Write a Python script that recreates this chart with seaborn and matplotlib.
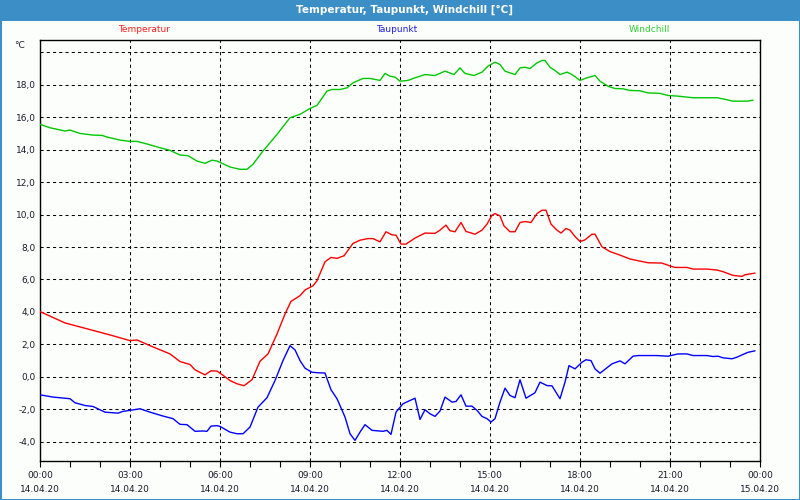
import matplotlib
matplotlib.use("Agg")
import matplotlib.pyplot as plt
from matplotlib.patches import Rectangle
import seaborn as sns
import pandas as pd

# ---------------- data (minutes after 14.04.20 00:00, °C) ----------------
temp_minutes = [0, 50, 100, 140, 180, 194, 220, 260, 280, 300, 310, 330, 342, 354, 364, 380, 394, 408,
                424, 440, 456, 474, 490, 502, 520, 530, 546, 554, 570, 582, 594, 608, 626, 640, 656, 666,
                680, 692, 704, 712, 722, 732, 750, 770, 790, 800, 812, 820, 830, 842, 852, 870, 884, 894,
                904, 910, 920, 928, 940, 950, 960, 970, 982, 994, 1004, 1012, 1022, 1034, 1042, 1052, 1060,
                1070, 1080, 1090, 1104, 1110, 1124, 1140, 1160, 1180, 1200, 1216, 1244, 1260, 1270, 1294,
                1306, 1334, 1354, 1366, 1386, 1404, 1410, 1430]
temp_values = [4.02, 3.32, 2.91, 2.58, 2.23, 2.27, 1.92, 1.41, 0.94, 0.76, 0.43, 0.12, 0.37, 0.35, 0.14,
               -0.23, -0.43, -0.55, -0.18, 0.96, 1.41, 2.64, 3.87, 4.65, 5.0, 5.35, 5.61, 5.92, 7.09, 7.36,
               7.3, 7.46, 8.22, 8.42, 8.52, 8.52, 8.32, 8.94, 8.75, 8.73, 8.18, 8.18, 8.55, 8.86, 8.84, 9.04,
               9.35, 9.0, 8.94, 9.51, 8.96, 8.79, 9.04, 9.41, 9.96, 10.06, 9.92, 9.3, 8.94, 8.94, 9.51, 9.57,
               9.51, 10.06, 10.27, 10.27, 9.41, 9.04, 8.86, 9.14, 9.04, 8.65, 8.34, 8.44, 8.79, 8.79, 8.01,
               7.72, 7.5, 7.26, 7.13, 7.03, 7.01, 6.83, 6.74, 6.74, 6.64, 6.64, 6.58, 6.48, 6.25, 6.19, 6.29,
               6.39]

dew_minutes = [0, 26, 60, 70, 90, 106, 130, 156, 166, 180, 200, 220, 246, 266, 280, 294, 310, 326, 334,
               342, 354, 360, 380, 394, 406, 420, 436, 454, 470, 486, 500, 510, 520, 530, 544, 556, 570,
               582, 594, 610, 620, 630, 640, 650, 664, 686, 694, 702, 712, 726, 750, 760, 770, 780, 790,
               800, 810, 824, 832, 842, 852, 864, 874, 884, 894, 902, 910, 920, 930, 940, 950, 960, 972,
               990, 1000, 1014, 1024, 1040, 1050, 1058, 1070, 1084, 1092, 1102, 1110, 1120, 1144, 1160,
               1170, 1186, 1196, 1234, 1256, 1276, 1294, 1306, 1334, 1346, 1356, 1366, 1384, 1394, 1404,
               1416, 1430]
dew_values = [-1.11, -1.25, -1.35, -1.6, -1.77, -1.83, -2.18, -2.24, -2.13, -2.07, -1.97, -2.18, -2.42,
              -2.58, -2.93, -2.95, -3.36, -3.34, -3.36, -3.04, -3.01, -3.06, -3.41, -3.51, -3.51, -3.1,
              -1.87, -1.29, -0.23, 1.0, 1.92, 1.66, 1.0, 0.53, 0.28, 0.25, 0.23, -0.8, -1.35, -2.48, -3.51,
              -3.92, -3.41, -2.95, -3.3, -3.36, -3.3, -3.55, -2.18, -1.66, -1.32, -2.63, -2.03, -2.28,
              -2.44, -2.11, -1.25, -1.56, -1.52, -1.11, -1.81, -1.81, -2.07, -2.44, -2.58, -2.79, -2.58,
              -1.56, -0.7, -1.15, -1.29, -0.18, -1.32, -0.98, -0.33, -0.54, -0.56, -1.35, -0.33, 0.69,
              0.49, 0.9, 1.05, 1.0, 0.49, 0.22, 0.8, 0.98, 0.8, 1.27, 1.31, 1.31, 1.27, 1.41, 1.41, 1.31,
              1.31, 1.25, 1.27, 1.17, 1.11, 1.21, 1.35, 1.51, 1.6]

chill_minutes = [0, 20, 50, 60, 80, 106, 124, 134, 160, 180, 194, 214, 240, 260, 280, 296, 314, 330, 344,
                 354, 364, 380, 400, 414, 426, 446, 474, 500, 520, 540, 554, 574, 584, 600, 614, 626, 646,
                 660, 680, 690, 700, 710, 720, 736, 750, 770, 790, 810, 828, 840, 850, 868, 884, 896, 910,
                 920, 930, 950, 960, 970, 980, 994, 1004, 1010, 1020, 1030, 1040, 1054, 1064, 1080, 1094,
                 1110, 1120, 1136, 1150, 1166, 1180, 1200, 1216, 1240, 1256, 1276, 1306, 1354, 1366, 1386,
                 1414, 1426]
chill_values = [15.56, 15.35, 15.15, 15.21, 15.0, 14.9, 14.88, 14.78, 14.59, 14.51, 14.51, 14.35, 14.12,
                13.96, 13.67, 13.63, 13.3, 13.16, 13.35, 13.3, 13.16, 12.93, 12.79, 12.79, 13.1, 13.92,
                14.94, 15.97, 16.18, 16.54, 16.73, 17.61, 17.71, 17.71, 17.81, 18.12, 18.39, 18.39, 18.27,
                18.7, 18.53, 18.47, 18.22, 18.27, 18.43, 18.63, 18.57, 18.84, 18.63, 19.04, 18.7, 18.57,
                18.78, 19.15, 19.39, 19.25, 18.84, 18.63, 19.04, 19.08, 19.0, 19.35, 19.5, 19.5, 19.08,
                18.88, 18.63, 18.78, 18.63, 18.27, 18.43, 18.57, 18.22, 17.91, 17.77, 17.75, 17.65, 17.63,
                17.5, 17.47, 17.34, 17.3, 17.2, 17.2, 17.13, 16.99, 16.99, 17.05]

series_names = ["Temperatur", "Taupunkt", "Windchill"]
x_tick_hours = [0, 3, 6, 9, 12, 15, 18, 21, 24]
x_tick_times = ["00:00", "03:00", "06:00", "09:00", "12:00", "15:00", "18:00", "21:00", "00:00"]
x_tick_dates = ["14.04.20"] * 8 + ["15.04.20"]
y_ticks = [-4, -2, 0, 2, 4, 6, 8, 10, 12, 14, 16, 18, 20]
title_text = "Temperatur, Taupunkt, Windchill [°C]"
unit_text = "°C"

# ---------------- styling ----------------
sns.set_style("white")
plt.rcParams["font.family"] = ["DejaVu Sans"]

frame_blue = "#3c8ec6"
bg = "#fcfefc"
colors = {"Temperatur": "#ff0000", "Taupunkt": "#0000ff", "Windchill": "#00c800"}
label_colors = {"Temperatur": "#ff2020", "Taupunkt": "#2020e0", "Windchill": "#33cc33"}
txt = "#1a1a2a"

frames = []
for name, mins, vals in [("Temperatur", temp_minutes, temp_values),
                         ("Taupunkt", dew_minutes, dew_values),
                         ("Windchill", chill_minutes, chill_values)]:
    frames.append(pd.DataFrame({"hour": [m / 60 for m in mins], "value": vals, "series": name}))
df = pd.concat(frames, ignore_index=True)

fig = plt.figure(figsize=(8, 5), dpi=100)
fig.patch.set_facecolor(bg)

# title bar and border
fig.add_artist(Rectangle((0, 1 - 21 / 500), 1, 21 / 500, transform=fig.transFigure,
                         facecolor=frame_blue, edgecolor="none", zorder=0))
fig.add_artist(Rectangle((0, 0), 1, 1, transform=fig.transFigure, fill=False,
                         edgecolor=frame_blue, linewidth=2.2, zorder=10))
fig.text(405 / 800, 1 - 10 / 500, title_text, ha="center", va="center", color="white",
         fontsize=7.5, fontweight="bold")

ax = fig.add_axes([40 / 800, 1 - 461 / 500, 720 / 800, 421 / 500])
ax.set_facecolor(bg)

sns.lineplot(data=df, x="hour", y="value", hue="series", palette=colors, hue_order=series_names,
             estimator=None, sort=False, linewidth=1.0, legend=False, ax=ax, zorder=3)

ax.set_xlim(0, 24)
ax.set_ylim(-5.19, 20.76)

ax.set_xticks(x_tick_hours)
ax.set_xticklabels([f"{t}\n{d}" for t, d in zip(x_tick_times, x_tick_dates)],
                   linespacing=1.7, fontsize=6.5, color=txt)
ax.set_xticks(range(0, 25), minor=True)
ax.tick_params(axis="x", which="both", direction="out", length=4, width=0.8, pad=3, color="black",
               bottom=True)

ax.set_yticks(y_ticks)
ax.set_yticklabels([f"{v:.1f}".replace(".", ",") if v != 20 else "" for v in y_ticks],
                   fontsize=6.5, color=txt)
ax.tick_params(axis="y", length=0, pad=3)

ax.set_xlabel("")
ax.set_ylabel("")
ax.grid(True, which="major", color="black", linestyle=(0, (3, 3)), linewidth=0.75, zorder=1)

for s in ax.spines.values():
    s.set_visible(True)
    s.set_color("black")
    s.set_linewidth(1.0)

fig.text(25 / 800, 1 - 45 / 500, unit_text, ha="right", va="center", fontsize=6.5, color=txt)

for name, xc in zip(series_names, [144, 397, 649]):
    fig.text(xc / 800, 1 - 30 / 500, name, ha="center", va="center", fontsize=6.5,
             color=label_colors[name])

fig.savefig("out.png", dpi=100, facecolor=fig.get_facecolor())
